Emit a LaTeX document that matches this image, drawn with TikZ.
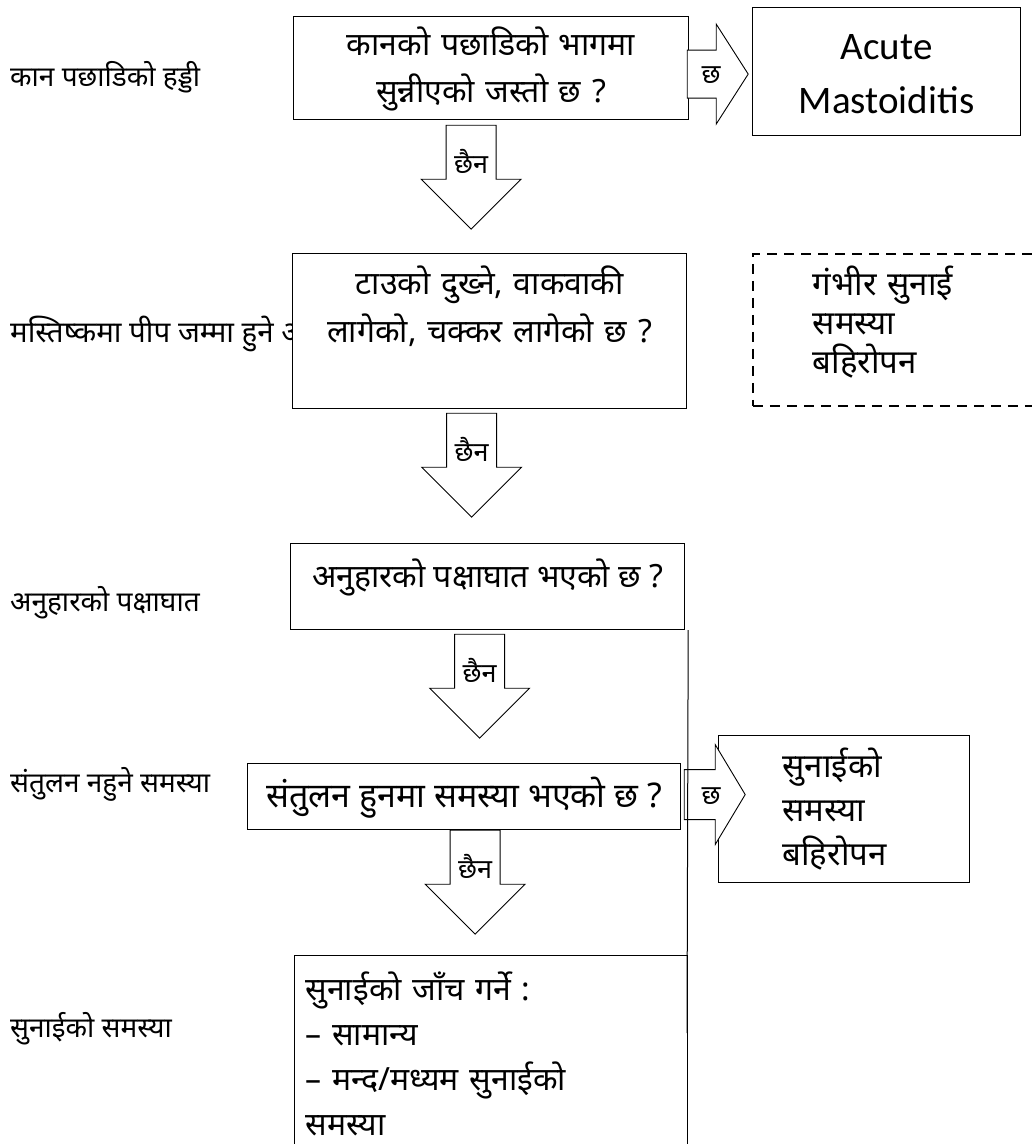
\documentclass[tikz,border=0pt]{standalone}
\usepackage{fontspec}
\newfontfamily\devfont[Script=Devanagari]{Noto Sans}
\newfontfamily\latinfont{Carlito}
\usetikzlibrary{calc}
\tikzstyle{questionbox}=[draw,line width=1.2pt,fill=white,anchor=north west,inner ysep=0pt,align=center,font=\devfont\fontsize{32}{47}\selectfont]
\tikzstyle{answerbox}=[draw,line width=1.2pt,fill=white,anchor=north west,inner ysep=0pt,align=left,font=\devfont\fontsize{33}{42}\selectfont]
\tikzstyle{sidelabel}=[anchor=base west,inner sep=0pt,font=\devfont\fontsize{28}{34}\selectfont]
\tikzstyle{blockarrow}=[draw,line width=0.9pt,fill=white]
\tikzstyle{arrowlabel}=[anchor=base,inner sep=0pt,font=\devfont\fontsize{27}{32}\selectfont]

\begin{document}
\begin{tikzpicture}[x=1pt,y=-1pt]

\useasboundingbox (0,0) rectangle (1032,1144);
\clip (0,0) rectangle (1032,1144);
\fill[white] (0,0) rectangle (1032,1144);

\node[sidelabel] (L1) at (10,86) {कान पछाडिको हड्डी};
\node[sidelabel,font=\devfont\fontsize{29.5}{34}\selectfont] (L2) at (10,342) {मस्तिष्कमा पीप जम्मा हुने अ};
\node[sidelabel] (L3) at (10,611) {अनुहारको पक्षाघात};
\node[sidelabel] (L4) at (10,792) {संतुलन नहुने समस्या};
\node[sidelabel] (L5) at (10,1037) {सुनाईको समस्या};

\node[questionbox,inner xsep=0pt,text width=395pt,text height=39pt,text depth=64pt] (Q1) at (293,16) {कानको पछाडिको भागमा\\सुन्नीएको जस्तो छ ?};
\node[questionbox,inner xsep=0pt,text width=268pt,text height=52pt,text depth=76pt,font=\latinfont\fontsize{39}{54}\selectfont] (R1) at (752,7) {Acute\\Mastoiditis};
\node[questionbox,inner xsep=0pt,text width=394pt,text height=41pt,text depth=114pt,font=\devfont\fontsize{32}{48}\selectfont] (Q2) at (292,253) {टाउको दुख्ने, वाकवाकी\\लागेको, चक्कर लागेको छ ?};
\node[answerbox,line width=1.6pt,dash pattern=on 10pt off 7pt,inner xsep=60pt,text width=173pt,text height=42pt,text depth=110pt,font=\devfont\fontsize{33}{39}\selectfont] (G1) at (752,253) {गंभीर सुनाई\\समस्या\\बहिरोपन};
\node[questionbox,inner xsep=0pt,minimum width=394pt,text height=44pt,text depth=42pt] (Q3) at (290,543) {अनुहारको पक्षाघात भएको छ ?};
\node[questionbox,inner xsep=0pt,minimum width=433pt,text height=44pt,text depth=22pt,font=\devfont\fontsize{34}{47}\selectfont] (Q4) at (247,763) {संतुलन हुनमा समस्या भएको छ ?};
\node[answerbox,inner xsep=64pt,text width=123pt,text height=42pt,text depth=105pt,font=\devfont\fontsize{33}{44}\selectfont] (R2) at (718,735) {सुनाईको\\समस्या\\बहिरोपन};
\node[answerbox,inner xsep=11pt,text width=371pt,text height=45pt,text depth=150pt,font=\devfont\fontsize{32}{45}\selectfont] (Q5) at (294,955) {सुनाईको जाँच गर्ने :\\– सामान्य\\– मन्द/मध्यम सुनाईको\\समस्या};

% down arrows (chhaina)
\coordinate (D1) at ($(Q1.south)+(-20,5)$);
\coordinate (D2) at ($(Q2.south)+(-18,4)$);
\coordinate (D3) at ($(Q3.south)+(-8,4)$);
\coordinate (D4) at ($(Q4.south)+(11,0)$);

\draw[blockarrow] ($(D1)+(-25,0)$) -- ++(50,0) -- ++(0,54) -- ++(25,0) -- ($(D1)+(0,104)$) -- ++(-50,-50) -- ++(25,0) -- cycle;
\draw[blockarrow] ($(D2)+(-25,0)$) -- ++(50,0) -- ++(0,54) -- ++(25,0) -- ($(D2)+(0,104)$) -- ++(-50,-50) -- ++(25,0) -- cycle;
\draw[blockarrow] ($(D3)+(-25,0)$) -- ++(50,0) -- ++(0,54) -- ++(25,0) -- ($(D3)+(0,104)$) -- ++(-50,-50) -- ++(25,0) -- cycle;
\draw[blockarrow] ($(D4)+(-25,0)$) -- ++(50,0) -- ++(0,54) -- ++(25,0) -- ($(D4)+(0,104)$) -- ++(-50,-50) -- ++(25,0) -- cycle;

\node[arrowlabel] (N1) at ($(D1)+(0,48)$) {छैन};
\node[arrowlabel] (N2) at ($(D2)+(0,48)$) {छैन};
\node[arrowlabel] (N3) at ($(D3)+(0,48)$) {छैन};
\node[arrowlabel] (N4) at ($(D4)+(0,48)$) {छैन};

% right arrows (chha)
\coordinate (E1) at ($(Q1.east)+(-2,6)$);
\coordinate (E2) at ($(Q4.east)+(3,-2)$);

\draw[blockarrow] ($(E1)+(0,-24)$) -- ++(29,0) -- ++(0,-26) -- ($(E1)+(61,0)$) -- ++(-32,50) -- ++(0,-26) -- ++(-29,0) -- cycle;
\draw[blockarrow] ($(E2)+(0,-25)$) -- ++(31,0) -- ++(0,-25) -- ($(E2)+(61,0)$) -- ++(-30,50) -- ++(0,-25) -- ++(-31,0) -- cycle;

\node[arrowlabel] (M1) at ($(E1)+(24,9)$) {छ};
\node[arrowlabel] (M2) at ($(E2)+(27,10)$) {छ};

\coordinate (V1) at (687,1033);
\draw[line width=1pt] (Q3.south -| Q5.east) -- (V1);

\end{tikzpicture}
\end{document}
